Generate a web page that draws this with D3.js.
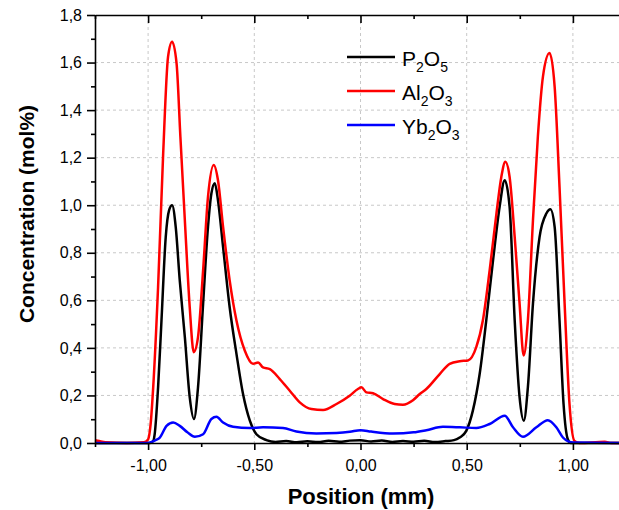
<!DOCTYPE html>
<html>
  <head>
    <meta charset="utf-8">
    <title>Concentration profile</title>
    <script src="https://cdn.jsdelivr.net/npm/d3@7"></script>
    <style>
      body { margin: 0; background: #fff; }
      svg { display: block; font-family: 'Liberation Sans', Arial, sans-serif; }
      .axis path, .axis line { stroke: #000; stroke-width: 1.6; fill: none; }
      .axis text { font-size: 16px; fill: #000; }
      .grid line { stroke: #c8c8c8; stroke-width: 1; stroke-dasharray: 3,3; }
      .title { font-size: 21px; font-weight: bold; text-anchor: middle; }
      .legend text { font-size: 21px; }
      .series { fill: none; stroke-width: 2.5; stroke-linejoin: round; }
    </style>
  </head>
  <body>
    <script>

      // P2O5
      var posP = [-1.25, -1.10, -0.99, -0.975, -0.969, -0.953, -0.937, -0.917, -0.901, -0.887,
                  -0.870, -0.851, -0.827, -0.804, -0.784, -0.765, -0.741, -0.718, -0.702, -0.686,
                  -0.671, -0.647, -0.616, -0.584, -0.553, -0.521, -0.490, -0.443, -0.40, -0.35,
                  -0.30, -0.25, -0.20, -0.15, -0.10, -0.05, 0.00, 0.05, 0.10, 0.15,
                  0.20, 0.25, 0.30, 0.35, 0.40, 0.44, 0.467, 0.498, 0.529, 0.561,
                  0.592, 0.624, 0.655, 0.679, 0.702, 0.726, 0.749, 0.769, 0.788, 0.812,
                  0.843, 0.875, 0.894, 0.914, 0.937, 0.956, 0.976, 0.99, 1.25];
      var valP = [0.0, 0.0, 0.0, 0.01, 0.037, 0.234, 0.515, 0.866, 0.979, 1.000,
                  0.909, 0.684, 0.445, 0.192, 0.101, 0.234, 0.586, 0.909, 1.049, 1.092,
                  1.021, 0.824, 0.571, 0.375, 0.206, 0.094, 0.037, 0.012, 0.004, 0.008,
                  0.003, 0.007, 0.004, 0.009, 0.005, 0.010, 0.012, 0.006, 0.010, 0.004,
                  0.008, 0.005, 0.009, 0.004, 0.008, 0.012, 0.023, 0.051, 0.136, 0.290,
                  0.515, 0.768, 0.993, 1.105, 0.993, 0.515, 0.192, 0.094, 0.234, 0.586,
                  0.866, 0.965, 0.983, 0.909, 0.515, 0.164, 0.016, 0.0, 0.0];

      // Al2O3
      var posAl = [-1.25, -1.23, -1.20, -1.10, -1.02, -1.0, -0.988, -0.976, -0.953, -0.929,
                   -0.906, -0.887, -0.866, -0.848, -0.827, -0.804, -0.785, -0.765, -0.741, -0.718,
                   -0.691, -0.671, -0.647, -0.616, -0.584, -0.545, -0.506, -0.482, -0.459, -0.427,
                   -0.380, -0.333, -0.286, -0.231, -0.176, -0.113, -0.051, -0.012, 0.004, 0.028,
                   0.059, 0.106, 0.161, 0.200, 0.247, 0.279, 0.310, 0.373, 0.420, 0.467,
                   0.506, 0.545, 0.576, 0.608, 0.640, 0.663, 0.682, 0.702, 0.726, 0.749,
                   0.768, 0.788, 0.812, 0.835, 0.859, 0.890, 0.914, 0.937, 0.961, 0.984,
                   1.007, 1.03, 1.15, 1.18, 1.25];
      var valAl = [0.012, 0.008, 0.003, 0.0, 0.003, 0.015, 0.08, 0.234, 0.656, 1.218,
                   1.625, 1.688, 1.597, 1.288, 0.937, 0.571, 0.382, 0.445, 0.726, 1.035,
                   1.169, 1.105, 0.909, 0.684, 0.515, 0.389, 0.333, 0.339, 0.318, 0.311,
                   0.269, 0.220, 0.171, 0.143, 0.139, 0.164, 0.199, 0.227, 0.234, 0.213,
                   0.209, 0.185, 0.164, 0.161, 0.180, 0.206, 0.227, 0.290, 0.333, 0.344,
                   0.347, 0.403, 0.515, 0.726, 0.965, 1.119, 1.183, 1.119, 0.866, 0.586,
                   0.368, 0.515, 0.937, 1.288, 1.541, 1.640, 1.499, 1.077, 0.586, 0.164,
                   0.009, 0.0, 0.005, 0.0, 0.0];

      // Yb2O3
      var posYb = [-1.25, -1.0, -0.99, -0.965, -0.945, -0.913, -0.882, -0.851, -0.815, -0.780,
                   -0.741, -0.702, -0.678, -0.647, -0.600, -0.521, -0.459, -0.365, -0.302, -0.208,
                   -0.113, -0.05, 0.0, 0.05, 0.153, 0.25, 0.310, 0.388, 0.467, 0.545,
                   0.608, 0.679, 0.718, 0.765, 0.828, 0.882, 0.922, 0.953, 0.98, 1.0, 1.25];
      var valYb = [0.0, 0.0, 0.002, 0.012, 0.023, 0.072, 0.086, 0.072, 0.045, 0.026,
                   0.037, 0.101, 0.110, 0.086, 0.068, 0.063, 0.066, 0.063, 0.048, 0.040,
                   0.042, 0.047, 0.054, 0.048, 0.040, 0.045, 0.054, 0.068, 0.066, 0.063,
                   0.080, 0.115, 0.066, 0.026, 0.066, 0.096, 0.066, 0.023, 0.006, 0.002, 0.0];

      var xTicks = [-1, -0.5, 0, 0.5, 1];
      var xMinorTicks = [-1.25, -0.75, -0.25, 0.25, 0.75];
      var yTicks = [0, 0.2, 0.4, 0.6, 0.8, 1.0, 1.2, 1.4, 1.6, 1.8];
      var yMinorTicks = [0.1, 0.3, 0.5, 0.7, 0.9, 1.1, 1.3, 1.5, 1.7];

      var seriesNames = ["P2O5", "Al2O3", "Yb2O3"];
      var seriesColors = ["#000000", "#ff0000", "#0000ff"];

      var outerWidth = 619;
      var outerHeight = 510;
      var margin = { left: 95, top: 15, bottom: 67 };
      var plotWidth = 531;   // runs past the picture on the right
      var innerHeight = outerHeight - margin.top - margin.bottom;

      var locale = d3.formatLocale({ decimal: ",", thousands: ".", grouping: [3],
                                     currency: ["", ""], minus: "-" });
      var fmtX = locale.format(".2f");
      var fmtY = locale.format(".1f");

      var svg = d3.select("body").append("svg")
        .attr("width", outerWidth)
        .attr("height", outerHeight);

      var g = svg.append("g")
        .attr("transform", "translate(" + margin.left + "," + margin.top + ")");

      var xScale = d3.scaleLinear().domain([-1.25, 1.25]).range([0, plotWidth]);
      var yScale = d3.scaleLinear().domain([0, 1.8]).range([innerHeight, 0]);

      // grid
      var grid = g.append("g").attr("class", "grid");
      grid.selectAll(".gx").data(xTicks).enter().append("line")
        .attr("x1", function(d) { return xScale(d); })
        .attr("x2", function(d) { return xScale(d); })
        .attr("y1", 0).attr("y2", innerHeight);
      grid.selectAll(".gy").data(yTicks.slice(1, -1)).enter().append("line")
        .attr("y1", function(d) { return yScale(d); })
        .attr("y2", function(d) { return yScale(d); })
        .attr("x1", 0).attr("x2", plotWidth);

      // curves
      var line = d3.line()
        .x(function(d) { return xScale(d[0]); })
        .y(function(d) { return yScale(d[1]); })
        .curve(d3.curveMonotoneX);

      var seriesData = [d3.zip(posP, valP), d3.zip(posAl, valAl), d3.zip(posYb, valYb)];

      g.selectAll(".series").data(seriesData).enter().append("path")
        .attr("class", "series")
        .attr("stroke", function(d, i) { return seriesColors[i]; })
        .attr("d", line);

      // axes (minor ticks drawn as separate unlabeled axes)
      function bare(sel) {
        sel.select(".domain").remove();
        sel.selectAll("text").remove();
      }

      g.append("g").attr("class", "axis")
        .attr("transform", "translate(0," + innerHeight + ")")
        .call(d3.axisBottom(xScale).tickValues(xMinorTicks).tickSize(4))
        .call(bare);
      g.append("g").attr("class", "axis")
        .attr("transform", "translate(0," + innerHeight + ")")
        .call(d3.axisBottom(xScale).tickValues(xTicks).tickSizeInner(7).tickSizeOuter(0)
              .tickPadding(10).tickFormat(fmtX));

      g.append("g").attr("class", "axis")
        .call(d3.axisTop(xScale).tickValues(xMinorTicks).tickSize(-4))
        .call(bare);
      g.append("g").attr("class", "axis")
        .call(d3.axisTop(xScale).tickValues(xTicks).tickSizeInner(-8).tickSizeOuter(0))
        .selectAll("text").remove();

      g.append("g").attr("class", "axis")
        .call(d3.axisLeft(yScale).tickValues(yMinorTicks).tickSize(4))
        .call(bare);
      g.append("g").attr("class", "axis")
        .call(d3.axisLeft(yScale).tickValues(yTicks).tickSizeInner(8).tickSizeOuter(0)
              .tickPadding(5).tickFormat(fmtY));

      // axis titles
      svg.append("text").attr("class", "title")
        .attr("x", 361).attr("y", 504)
        .style("font-size", "22px")
        .text("Position (mm)");
      svg.append("text").attr("class", "title")
        .attr("transform", "translate(34,214) rotate(-90)")
        .text("Concentration (mol%)");

      // legend
      var legend = svg.append("g").attr("class", "legend")
        .attr("transform", "translate(347,57)");
      var items = legend.selectAll("g").data(seriesNames).enter().append("g")
        .attr("transform", function(d, i) { return "translate(0," + i * 34 + ")"; });
      items.append("line")
        .attr("x1", 0).attr("x2", 48)
        .attr("stroke", function(d, i) { return seriesColors[i]; })
        .attr("stroke-width", 2.5);
      var label = items.append("text").attr("x", 55).attr("y", 9);
      label.each(function(d) {
        var t = d3.select(this);
        d.match(/[A-Za-z]+|\d+/g).forEach(function(part, k) {
          var sub = /\d/.test(part);
          t.append("tspan")
            .attr("font-size", sub ? "14px" : null)
            .attr("dy", k === 0 ? 0 : (sub ? 6 : -6))
            .text(part);
        });
      });

    </script>
  </body>
</html>
